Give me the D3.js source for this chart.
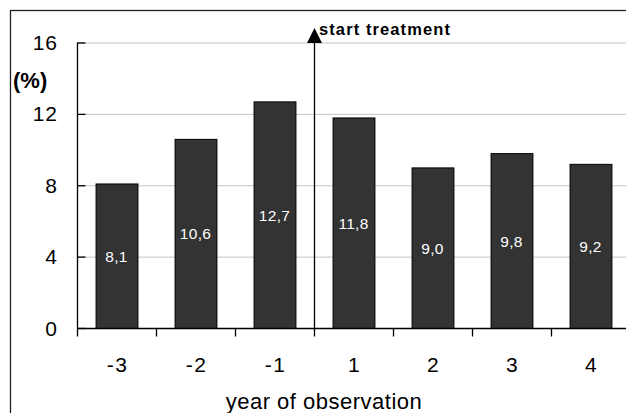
<!DOCTYPE html>
<html>
<head>
<meta charset="utf-8">
<script src="https://cdn.jsdelivr.net/npm/d3@7"></script>
<style>
html,body{margin:0;padding:0;background:#fff;}
svg{display:block;font-family:"Liberation Sans",Arial,sans-serif;}
</style>
</head>
<body>
<svg id="chart" width="626" height="413"></svg>
<script>
const categories = ["-3","-2","-1","1","2","3","4"];
const values = [8.1,10.6,12.7,11.8,9.0,9.8,9.2];
const valueLabels = ["8,1","10,6","12,7","11,8","9,0","9,8","9,2"];
const yTicks = [0,4,8,12,16];
const markerLabel = "start treatment";
const yUnit = "(%)";
const xTitle = "year of observation";

const svg = d3.select("#chart");
const pLeft = 77, pRight = 630, pTop = 42.5, pBottom = 328;

const x = d3.scaleBand().domain(categories).range([pLeft, pRight]).paddingInner(0.47).paddingOuter(0.235);
const y = d3.scaleLinear().domain([0,16]).range([pBottom, pTop]);

// outer frame (clipped by canvas on right/bottom)
svg.append("rect").attr("x",10.5).attr("y",10.5).attr("width",640).attr("height",420)
  .attr("fill","none").attr("stroke","#222").attr("stroke-width",1.3);

// gridlines
svg.append("g").selectAll("line").data(yTicks.filter(d=>d>0)).join("line")
  .attr("x1",pLeft).attr("x2",pRight).attr("y1",d=>y(d)+0.5).attr("y2",d=>y(d)+0.5)
  .attr("stroke","#c4c4c4").attr("stroke-width",1);

// bars
svg.append("g").selectAll("rect").data(values).join("rect")
  .attr("x",(d,i)=>x(categories[i])+0.5).attr("width",x.bandwidth())
  .attr("y",d=>y(d)+0.5).attr("height",d=>y(0)-y(d))
  .attr("fill","#333333").attr("stroke","#000").attr("stroke-width",1);

// value labels
svg.append("g").selectAll("text").data(values).join("text")
  .attr("x",(d,i)=>x(categories[i])+x.bandwidth()/2)
  .attr("y",d=>y(d/2)+6)
  .attr("text-anchor","middle").attr("fill","#fff").attr("font-size",15.5)
  .attr("letter-spacing",0.3)
  .text((d,i)=>valueLabels[i]);

// y axis (inner ticks)
const yAxis = d3.axisRight(y).tickValues(yTicks).tickSize(8).tickFormat("");
const gy = svg.append("g").attr("transform",`translate(${pLeft+0.5},0)`).call(yAxis);
gy.select(".domain").attr("d",`M0,${pTop}V${pBottom}`).attr("stroke","#000").attr("stroke-width",1.3);
gy.selectAll(".tick line").attr("stroke","#000").attr("stroke-width",1.3);
svg.append("g").selectAll("text").data(yTicks).join("text")
  .attr("x",58).attr("y",d=>y(d)+7.5)
  .attr("text-anchor","end").attr("font-size",21).attr("letter-spacing",1).attr("fill","#000").text(d=>d);

// x axis
const xPos = d3.scaleLinear().domain([0,categories.length]).range([pLeft,pRight]);
const gx = svg.append("g").attr("transform",`translate(0,${pBottom+0.5})`);
gx.append("line").attr("x1",pLeft).attr("x2",pRight).attr("stroke","#000").attr("stroke-width",1.3);
gx.selectAll("line.t").data(d3.range(categories.length+1)).join("line").attr("class","t")
  .attr("x1",d=>xPos(d)+0.5).attr("x2",d=>xPos(d)+0.5).attr("y1",0).attr("y2",8)
  .attr("stroke","#000").attr("stroke-width",1.3);
svg.append("g").selectAll("text").data(categories).join("text")
  .attr("x",d=>x(d)+x.bandwidth()/2+1).attr("y",372)
  .attr("text-anchor","middle").attr("font-size",21).attr("letter-spacing",1.5).attr("fill","#000").text(d=>d);

// axis titles
svg.append("text").attr("x",324).attr("y",409).attr("text-anchor","middle")
  .attr("font-size",22).attr("letter-spacing",0.5).attr("fill","#000").text(xTitle);
svg.append("text").attr("x",13).attr("y",88).attr("font-size",22).attr("font-weight","bold")
  .attr("fill","#000").text(yUnit);

// treatment marker
const mx = xPos(3)+0.5;
svg.append("line").attr("x1",mx).attr("x2",mx).attr("y1",42).attr("y2",pBottom)
  .attr("stroke","#000").attr("stroke-width",1.3);
svg.append("path").attr("d",`M${mx},28 L${mx-7.5},43 L${mx+7.5},43 Z`).attr("fill","#000");
svg.append("text").attr("x",319).attr("y",35).attr("font-size",16.5).attr("font-weight","bold")
  .attr("letter-spacing",1.1).attr("fill","#000").text(markerLabel);
</script>
</body>
</html>
